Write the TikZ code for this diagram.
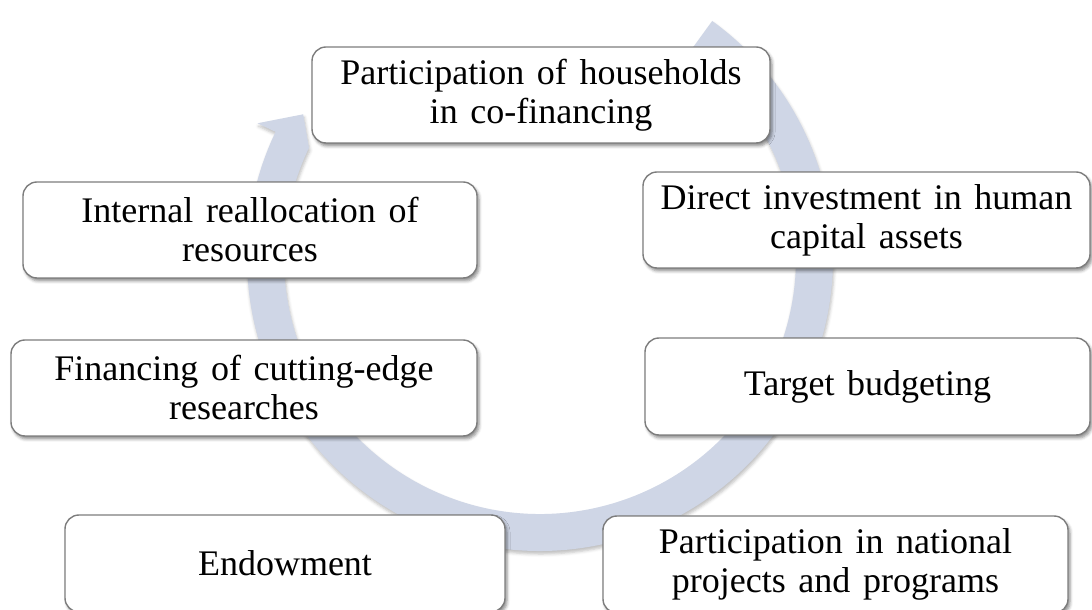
\documentclass[tikz,border=0pt]{standalone}
\usepackage{fontspec}
\setmainfont[WordSpace=1.4]{Liberation Serif}
\usepackage{xcolor}
\usetikzlibrary{shadows.blur}

\begin{document}
\begin{tikzpicture}[x=0.5pt, y=0.5pt]
        % ================= 样式定义 =================
        \definecolor{ringblue}{RGB}{207,214,230}
        \definecolor{boxgray}{RGB}{125,125,125}
        \tikzset{
            % 文本框:白底灰边圆角矩形,带阴影
            tbox/.style={rectangle, rounded corners=7pt, draw=boxgray, line width=0.7pt, fill=white,
                align=center, inner sep=0pt, minimum height=48pt,
                font=\fontsize{18}{19.5}\selectfont,
                blur shadow={shadow xshift=1pt, shadow yshift=-1.5pt, shadow blur radius=1.5pt, shadow opacity=45}},
            % 环形箭头
            ring/.style={fill=ringblue,
                blur shadow={shadow xshift=0.5pt, shadow yshift=-1.5pt, shadow blur radius=1.5pt, shadow opacity=25}}
        }

        \useasboundingbox (0,0) rectangle (1092,610);

        % ================= 环形箭头 (顺时针) =================
        \coordinate (c) at (540,352);
        \fill[ring] ([shift={(54:293)}]c) arc[start angle=54, end angle=-205.5, radius=293]
            -- ([shift={(154.5:313)}]c) -- ([shift={(148.75:277)}]c)
            -- ([shift={(154.5:256)}]c) arc[start angle=-205.5, end angle=54, radius=256] -- cycle;

        % ================= 文本框 =================
        \node[tbox, minimum width=229pt] (hh) at (541,515) {Participation of households\\in co-financing};
        \node[tbox, minimum width=227pt] (realloc) at (250,380) {Internal reallocation of\\resources};
        \node[tbox, minimum width=233pt] (research) at (244,222) {Financing of cutting-edge\\researches};
        \node[tbox, minimum width=223.5pt] (invest) at (866.5,390) {Direct investment in human\\capital assets};
        \node[tbox, minimum width=222.5pt, minimum height=48.5pt] (budget) at (867.5,223.5) {Target budgeting};
        \node[tbox, minimum width=220pt, minimum height=48.5pt] (endow) at (285,46.5) {Endowment};
        \node[tbox, minimum width=232.5pt, minimum height=48.5pt] (national) at (835.5,45.5) {Participation in national\\projects and programs};

    \end{tikzpicture}
\end{document}
